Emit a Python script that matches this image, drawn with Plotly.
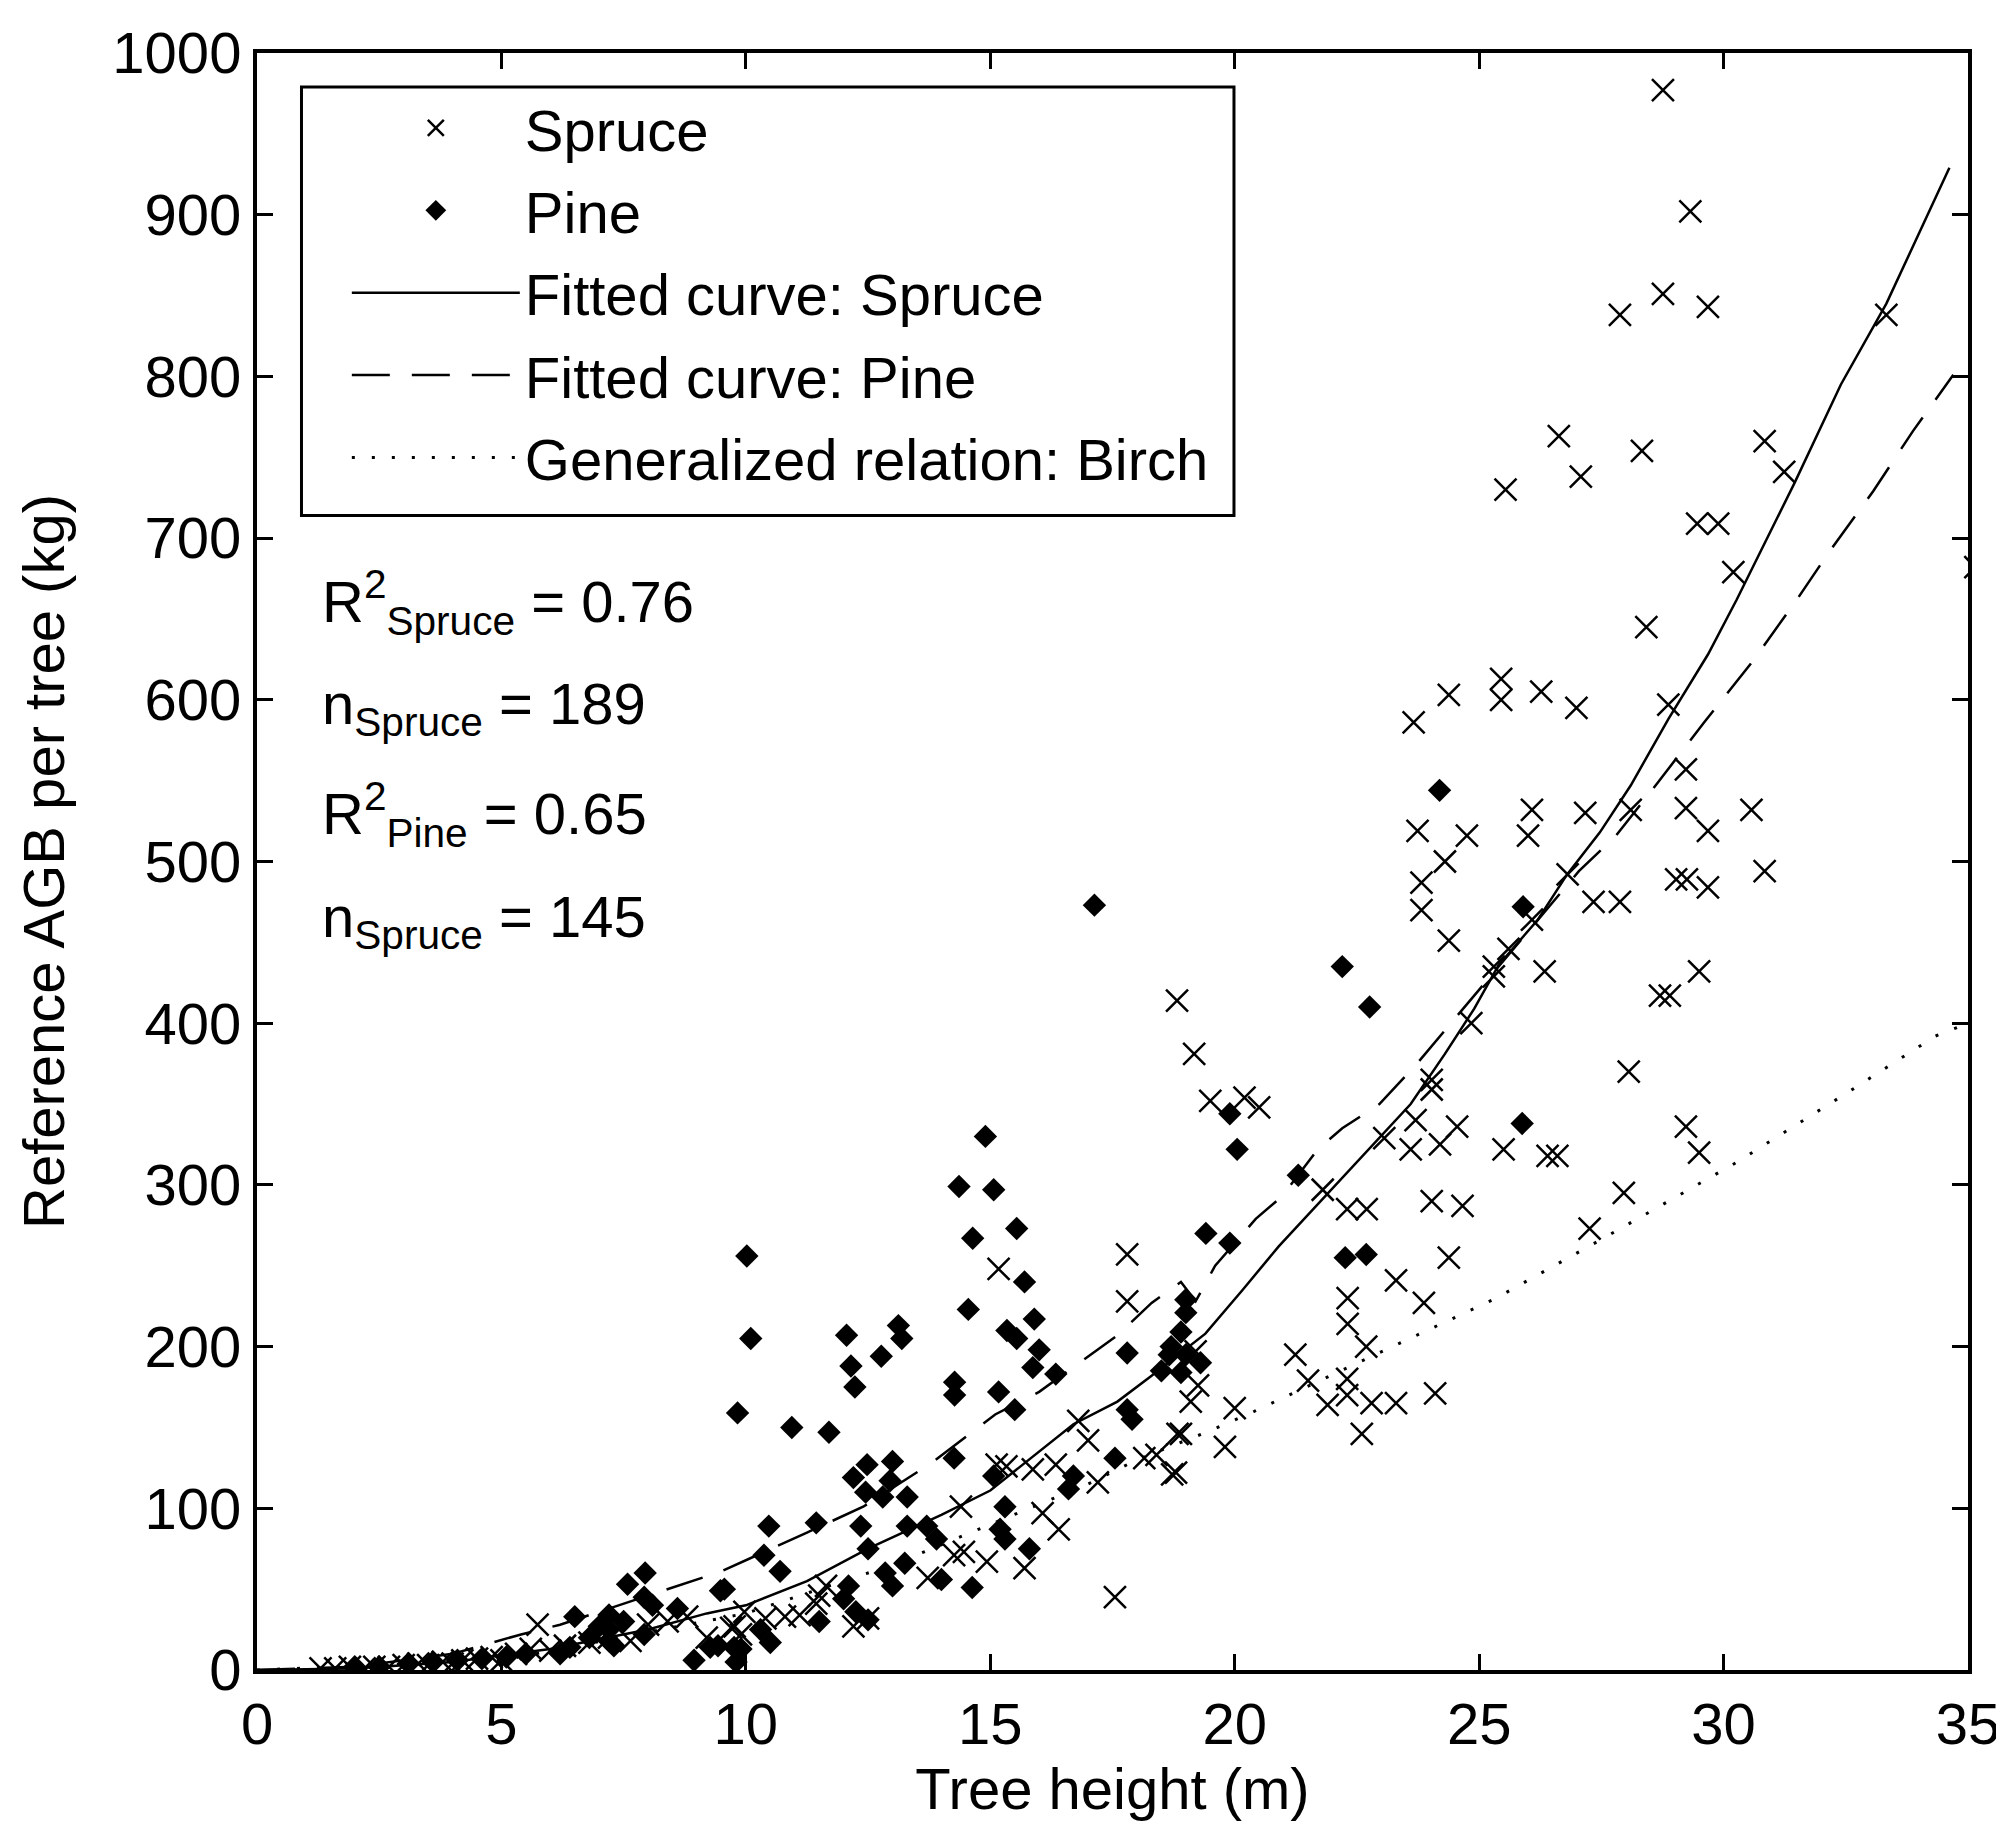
import plotly.graph_objects as go

# measured points, spruce (x = tree height m, y = AGB kg)
spruce_h = [28.76, 29.32, 28.76, 27.88, 29.68, 33.33, 26.63, 28.33, 30.84, 27.08, 25.54, 31.24, 29.46, 29.89, 30.2, 35.15,
            28.42, 24.38, 25.45, 25.45, 26.27, 26.99, 23.66, 28.87, 29.23, 26.08, 27.17, 28.1, 29.23, 30.57, 29.68, 23.74,
            24.75, 26.0, 24.3, 23.82, 23.82, 26.81, 29.03, 29.25, 29.68, 30.84, 26.08, 27.34, 27.88, 24.38, 25.6, 25.3,
            25.3, 26.34, 29.5, 28.7, 28.9, 18.82, 24.84, 19.17, 28.06, 24.03, 24.03, 19.5, 20.2, 20.5, 23.7, 24.55,
            29.23, 23.06, 23.6, 24.2, 25.5, 26.4, 26.6, 29.5,
            21.8, 22.3, 22.7, 24.03, 24.66, 27.96, 27.26, 24.38, 23.3, 22.31, 23.87, 22.31, 22.69, 21.24, 19.2, 19.25,
            19.1, 21.5, 22.3, 21.9, 22.3, 22.8, 23.3, 24.1, 20.0, 22.6, 18.9, 19.8, 18.8, 18.4,
            15.17, 17.8, 17.8, 18.83, 18.15, 18.72, 16.8, 17.0, 17.2, 16.34, 15.87, 15.33, 15.13, 16.07, 16.4, 14.4,
            14.26, 14.46, 14.93, 15.7, 13.72, 17.55, 11.5, 11.64, 11.44, 11.1, 10.8, 10.4, 9.97, 9.77, 12.2, 12.5,
            1.3, 1.6, 1.9, 2.2, 2.4, 2.7, 3.0, 3.3, 3.5, 3.8, 4.0, 4.2, 4.5, 4.8, 5.0, 5.3, 5.6, 5.74, 6.0, 6.3,
            6.8, 7.2, 7.64, 8.0, 8.4, 8.8, 9.2, 9.7, 9.9]
spruce_agb = [977, 902, 851, 838, 843, 838, 763, 754, 760, 738, 730, 741, 709, 709, 679, 682,
              645, 603, 613, 600, 605, 595, 586, 597, 557, 532, 530, 532, 533, 532, 519, 519,
              516, 516, 500, 487, 470, 492, 489, 489, 484, 494, 464, 475, 475, 451, 446, 435,
              429, 432, 432, 417, 417, 414, 400, 381, 370, 365, 359, 352, 354, 348, 340, 336,
              336, 329, 322, 325, 322, 318, 318, 320,
              297, 285, 285, 290, 287, 295, 273, 255, 241, 230, 227, 214, 200, 195, 197, 176,
              166, 179, 180, 164, 170, 165, 165, 171, 162, 146, 146, 138, 122, 133,
              248, 257, 228, 146, 131, 121, 154, 142, 116, 127, 124, 126, 127, 97, 87, 101,
              71, 73, 67, 63, 57, 45, 46, 52, 41, 34, 33, 32, 36, 27, 27, 32,
              1, 1, 2, 1, 2, 2, 3, 4, 3, 5, 4, 6, 7, 8, 6, 10, 13, 28, 12, 15,
              17, 20, 18, 28, 30, 33, 20, 26, 22]

# measured points, pine
pine_h = [24.19, 25.9, 22.2, 22.76, 19.9, 25.88, 20.05, 21.3,
          19.41, 19.9, 22.26, 22.69, 19.0, 19.0, 18.9, 18.66, 19.0, 18.9, 18.5, 18.7, 19.3,
          17.13, 14.9, 14.36, 15.07,
          15.54, 14.64, 15.7, 14.55, 10.02, 10.1, 9.83, 12.06, 13.12, 13.19, 12.77, 12.15, 12.23, 10.94, 11.7,
          14.27, 14.27, 15.17, 15.34, 15.54, 15.9, 16.0, 15.87, 16.34, 15.5, 14.26, 12.48, 13.0, 12.2, 12.95,
          12.45, 12.8, 13.3, 11.44, 10.47, 12.35, 13.3, 13.7, 13.9, 12.5, 15.2, 15.3, 15.3, 15.07, 16.7, 16.6,
          17.8, 17.9, 17.8, 17.55, 15.8, 10.37, 10.7, 9.56, 13.25, 12.85, 13.0, 12.1, 12.0, 14.0, 14.63, 11.5,
          12.25, 12.5, 10.3, 10.5, 9.43, 9.9,
          2.0, 2.5, 3.1, 3.6, 4.1, 4.6, 5.1, 5.5, 6.2, 6.4, 6.5, 6.8, 7.0, 7.2, 7.2, 7.2, 7.3, 7.5, 7.58, 7.92,
          7.94, 8.09, 7.92, 8.6, 8.94, 9.27, 9.48, 9.76, 9.8]
pine_agb = [544, 472, 435, 410, 344, 338, 322, 306,
            270, 264, 255, 257, 229, 221, 209, 195, 195, 184, 185, 200, 190,
            473, 330, 299, 297,
            273, 267, 240, 223, 256, 205, 159, 207, 213, 205, 194, 188, 175, 150, 147,
            178, 170, 172, 210, 205, 217, 198, 187, 183, 161, 131, 127, 129, 119, 117,
            110, 107, 107, 91, 89, 89, 89, 89, 81, 75, 87, 81, 101, 120, 120, 112,
            161, 155, 196, 131, 75, 71, 61, 50, 66, 60, 52, 52, 44, 56, 51, 30,
            36, 31, 25, 17, 15, 13,
            2, 2, 4, 5, 6, 7, 8, 10, 10, 14, 33, 20, 27, 34, 25, 18, 15, 30, 53, 45,
            60, 40, 22, 38, 6, 14, 49, 14, 5]

# fitted / generalized curves
fit_spruce_h = [0, 2, 4, 6, 8, 9.2, 10, 11.25, 12.5, 14, 15, 16.7, 17.6, 18.3, 19.4, 20.16, 20.9, 21.67, 22.58,
                23.6, 24.3, 24.9, 25.4, 26.2, 26.8, 27.47, 28.1, 28.87, 29.68, 30.27, 31.45, 32.4, 33.33, 34.62]
fit_spruce_agb = [0, 1, 5, 13, 25, 35, 40, 55, 75, 96, 111, 152, 166, 182, 208, 235, 262, 287, 317,
                  350, 381, 409, 436, 464, 492, 518, 547, 588, 628, 662, 734, 795, 845, 929]
fit_pine_h = [0, 2, 4, 5.4, 6.2, 8.4, 9.5, 11.25, 12.4, 13.8, 15.1, 16.0, 17.6, 18.3, 18.9, 19.2, 19.6, 20.43,
              20.97, 21.7, 22.2, 22.96, 23.7, 27.04, 27.8, 28.66, 29.6, 30.6, 31.5, 32.15, 33.06, 33.87, 34.7]
fit_pine_agb = [0, 2, 10, 22, 28, 50, 61, 85, 101, 128, 158, 172, 207, 227, 240, 228, 250, 279,
                293, 322, 335, 350, 374, 494, 516, 549, 586, 624, 662, 691, 729, 766, 801]
birch_h = [0, 5, 10, 13, 15, 17, 18, 19.5, 20.4, 23.1, 25.35, 27.6, 30.27, 32.53, 34.33, 35]
birch_agb = [0, 6, 35, 65, 90, 115, 130, 148, 160, 198, 230, 268, 314, 357, 392, 400]

FONT = "Liberation Sans Narrow, Arial Narrow, Liberation Sans, sans-serif"
FS = 58

fig = go.Figure()
fig.add_trace(go.Scatter(x=spruce_h, y=spruce_agb, mode='markers', name='Spruce', legendgroup='a',
                         marker=dict(symbol='x-thin', size=22, color='black', line=dict(width=2.5, color='black'))))
fig.add_trace(go.Scatter(x=pine_h, y=pine_agb, mode='markers', name='Pine', legendgroup='b',
                         marker=dict(symbol='diamond', size=18, color='black', line=dict(width=0))))
fig.add_trace(go.Scatter(x=fit_spruce_h, y=fit_spruce_agb, mode='lines', name='Fitted curve: Spruce',
                         legendgroup='c', line=dict(color='black', width=2.5)))
fig.add_trace(go.Scatter(x=fit_pine_h, y=fit_pine_agb, mode='lines', name='Fitted curve: Pine',
                         legendgroup='d', line=dict(color='black', width=2.5, dash='38px,22px')))
fig.add_trace(go.Scatter(x=birch_h, y=birch_agb, mode='lines', name='Generalized relation: Birch',
                         legendgroup='e', line=dict(color='black', width=3, dash='3px,17px')))

ann = ['R<sup>2</sup><sub>Spruce</sub> = 0.76', 'n<sub>Spruce</sub> = 189',
       'R<sup>2</sup><sub>Pine</sub> = 0.65', 'n<sub>Spruce</sub> = 145']
ann_y = [0.660, 0.595, 0.529, 0.463]
for t, yy in zip(ann, ann_y):
    fig.add_annotation(text=t, x=0.037, y=yy, xref='paper', yref='paper', xanchor='left', yanchor='middle',
                       showarrow=False, font=dict(size=FS, color='black', family=FONT))

# legend frame
fig.add_shape(type='rect', xref='paper', yref='paper', x0=0.026, x1=0.571, y0=0.714, y1=0.979,
              line=dict(color='black', width=3), fillcolor='white', layer='below')

axis = dict(showline=True, linewidth=4, linecolor='black', mirror='ticks', ticks='inside', ticklen=16,
            tickwidth=3, tickcolor='black', showgrid=False, zeroline=False,
            tickfont=dict(size=FS, color='black', family=FONT))
fig.update_xaxes(range=[0, 35], tickvals=[0, 5, 10, 15, 20, 25, 30, 35],
                 title=dict(text='Tree height (m)', font=dict(size=FS, color='black', family=FONT), standoff=10),
                 **axis)
fig.update_yaxes(range=[0, 1000], tickvals=list(range(0, 1001, 100)),
                 title=dict(text='Reference AGB per tree (kg)', font=dict(size=FS, color='black', family=FONT),
                            standoff=30),
                 **axis)

fig.update_layout(
    width=2004, height=1833,
    margin=dict(l=249, r=41, t=45, b=171),
    plot_bgcolor='white', paper_bgcolor='white',
    legend=dict(x=0.0525, y=0.981, xanchor='left', yanchor='top', bgcolor='rgba(0,0,0,0)',
                borderwidth=0, itemwidth=168, tracegroupgap=4, traceorder='grouped',
                font=dict(size=FS, color='black', family=FONT)),
)

fig.write_html("out.html")
